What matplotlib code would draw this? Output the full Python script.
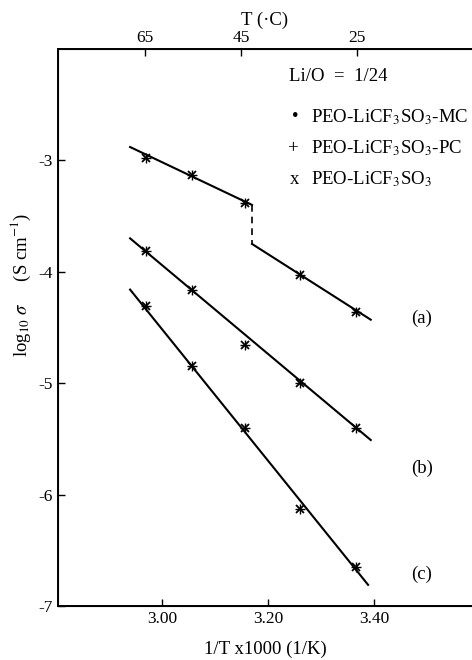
import matplotlib
matplotlib.use("Agg")
import matplotlib.pyplot as plt

plt.rcParams['font.family'] = ['Liberation Serif', 'DejaVu Serif']
plt.rcParams['mathtext.fontset'] = 'stix'

# measured points (1/T x1000, log10 sigma)
x_pts = [2.97, 3.057, 3.157, 3.26, 3.366]
a_pts = [-2.98, -3.13, -3.38, -4.03, -4.36]
b_pts = [-3.81, -4.16, -4.66, -5.00, -5.40]
c_pts = [-4.31, -4.85, -5.40, -6.13, -6.65]

# fitted lines
a1_x = [2.94, 3.17]
a1_y = [-2.88, -3.40]
jump_x = [3.17, 3.17]
jump_y = [-3.40, -3.75]
a2_x = [3.17, 3.394]
a2_y = [-3.75, -4.43]
b_x = [2.94, 3.394]
b_y = [-3.70, -5.51]
c_x = [2.94, 3.389]
c_y = [-4.16, -6.81]

top_pos = [2.968, 3.149, 3.368]
top_lab = ['65', '45', '25']

fig = plt.figure(figsize=(4.72, 6.60), dpi=100)
ax = fig.add_axes([0.1229, 0.0818, 0.8771, 0.8440])

ax.plot(a1_x, a1_y, color='black', lw=1.5)
ax.plot(jump_x, jump_y, color='black', lw=1.2, ls=(0, (4, 3)))
ax.plot(a2_x, a2_y, color='black', lw=1.5)
ax.plot(b_x, b_y, color='black', lw=1.5)
ax.plot(c_x, c_y, color='black', lw=1.5)

for ys in (a_pts, b_pts, c_pts):
    ax.plot(x_pts, ys, ls='none', marker='x', ms=6, mew=1.3, color='black')
    ax.plot(x_pts, ys, ls='none', marker='+', ms=7, mew=1.0, color='black')

ax.set_xlim(2.804, 3.585)
ax.set_ylim(-7, -2)
ax.set_xticks([3.00, 3.20, 3.40])
ax.set_xticklabels(['3.00', '3.20', '3.40'])
ax.set_yticks([-7, -6, -5, -4, -3])
ax.set_yticklabels(['-7', '-6', '-5', '-4', '-3'])
ax.tick_params(direction='in', length=5, width=1, labelsize=12.5)
ax.spines['right'].set_visible(False)
for s in ('left', 'bottom', 'top'):
    ax.spines[s].set_linewidth(1.4)

ax.set_xlabel('1/T x1000 (1/K)', fontsize=13.5, labelpad=10)
ax.set_ylabel(r'log$_{10}$ $\sigma$     (S cm$^{-1}$)', fontsize=13.5)
ax.yaxis.set_label_coords(-0.06, 0.576)

top = ax.twiny()
top.set_xlim(ax.get_xlim())
top.set_xticks(top_pos)
top.set_xticklabels(top_lab)
top.tick_params(direction='in', length=5, width=1, labelsize=12.5, pad=2)
top.spines['right'].set_visible(False)
top.set_xlabel('T (·C)', fontsize=13.5, labelpad=4)

fs = 13.5
ax.text(3.24, -2.25, 'Li/O  =  1/24', fontsize=fs, va='center')
ax.text(3.245, -2.61, '•', fontsize=fs, va='center')
ax.text(3.282, -2.61, r'PEO-LiCF$_3$SO$_3$-MC', fontsize=fs, va='center')
ax.text(3.237, -2.89, '+', fontsize=fs, va='center')
ax.text(3.282, -2.89, r'PEO-LiCF$_3$SO$_3$-PC', fontsize=fs, va='center')
ax.text(3.242, -3.17, 'x', fontsize=fs, va='center')
ax.text(3.282, -3.17, r'PEO-LiCF$_3$SO$_3$', fontsize=fs, va='center')

ax.text(3.47, -4.42, '(a)', fontsize=fs, va='center')
ax.text(3.47, -5.76, '(b)', fontsize=fs, va='center')
ax.text(3.47, -6.72, '(c)', fontsize=fs, va='center')

fig.savefig('out.png', dpi=100)
